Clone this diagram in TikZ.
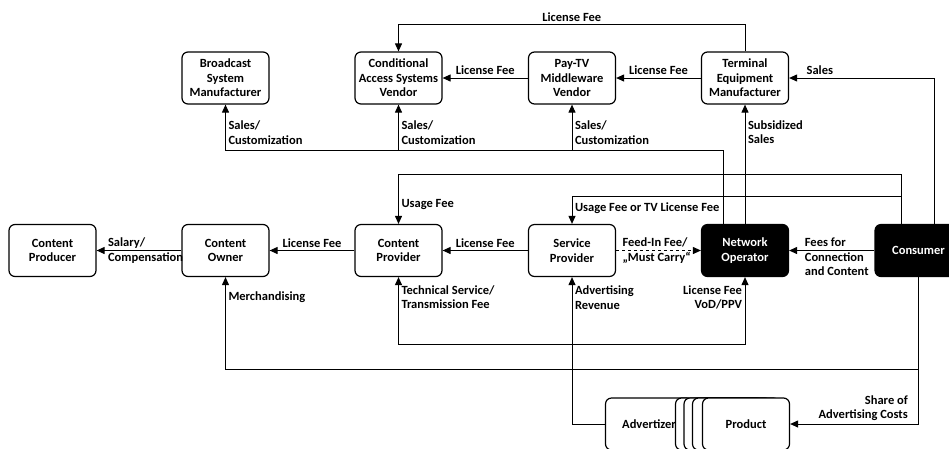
\documentclass[tikz,border=0pt]{standalone}
\usepackage{fontspec}
\setmainfont{Carlito}
\usetikzlibrary{positioning, arrows.meta}

\begin{document}
\begin{tikzpicture}[x=1pt, y=-1pt, line width=1pt, >={Triangle[length=8pt,width=7pt]},
    font=\fontsize{12.5}{14.5}\selectfont\bfseries,
    box/.style={draw, rounded corners=6pt, line width=1.2pt, fill=white, minimum width=87pt, minimum height=52pt, inner sep=1pt, align=center},
    dark/.style={box, fill=black, text=white},
    arr/.style={->},
    dbl/.style={<->},
    lbl/.style={inner sep=2.5pt, align=left}]
  \useasboundingbox (0,0) rectangle (949,448);
  \clip (0,0) rectangle (949,448);

  \node[box] (bsm) at (225.5,78) {Broadcast\\System\\Manufacturer};
  \node[box] (cas) at (398.5,78) {Conditional\\Access Systems\\Vendor};
  \node[box] (mw) at (572,78) {Pay-TV\\Middleware\\Vendor};
  \node[box] (tem) at (745,78) {Terminal\\Equipment\\Manufacturer};
  \node[box] (prod) at (52.5,250.5) {Content\\Producer};
  \node[box] (owner) at (225.5,250.5) {Content\\Owner};
  \node[box] (prov) at (398.5,250.5) {Content\\Provider};
  \node[box] (serv) at (572,250.5) {Service\\Provider};
  \node[dark] (netop) at (745,250.5) {Network\\Operator};
  \node[dark] (cons) at (918.5,250.5) {Consumer};
  \node[box] (adv) at (649,424) {Advertizer};
  \foreach \i/\x in {1/719,2/727.5,3/736}{\node[box] (copy\i) at (\x,424) {};}
  \node[box] (product) at (746,424) {Product};
  \coordinate (bus) at (0,150);

  \draw[arr] (tem) -- node[lbl, above]{License Fee} (mw);
  \draw[arr] (mw) -- node[lbl, above]{License Fee} (cas);
  \draw[arr] (tem.north) -- ++(0,-27) -| node[lbl, above, pos=0.25]{License Fee} (cas.north);
  \draw[arr] ([xshift=15.5pt]cons.north) |- node[lbl, above right, pos=0.95]{Sales} (tem.east);
  \draw[arr] (netop.north) -- node[lbl, right, pos=0.77]{Subsidized\\Sales} (tem.south);
  \draw[arr] ([xshift=-22pt]netop.north) |- (bsm.south |- bus) -- node[lbl, right, pos=0.38]{Sales/\\Customization} (bsm.south);
  \draw[arr] (cas.south |- bus) -- node[lbl, right, pos=0.38]{Sales/\\Customization} (cas.south);
  \draw[arr] (mw.south |- bus) -- node[lbl, right, pos=0.38]{Sales/\\Customization} (mw.south);

  \draw[arr] ([xshift=-17.5pt]cons.north) -- ++(0,-49) -| node[lbl, right, pos=0.8]{Usage Fee} (prov.north);
  \draw[arr] ([xshift=-17.5pt]cons.north) ++(0,-27) -| node[lbl, right, pos=0.7]{Usage Fee or TV License Fee} (serv.north);

  \draw[arr] (cons) -- node[lbl, anchor=west, pos=0.85, yshift=-6.5pt]{Fees for\\Connection\\and Content} (netop);
  \draw[arr, dashed] (serv) -- node[lbl, anchor=west, pos=0.04]{Feed-In Fee/\\„Must Carry“} (netop);
  \draw[arr] (serv) -- node[lbl, above]{License Fee} (prov);
  \draw[arr] (prov) -- node[lbl, above]{License Fee} (owner);
  \draw[arr] (owner) -- node[lbl, anchor=west, pos=0.9]{Salary/\\Compensation} (prod);

  \draw[dbl] (prov.south) -- node[lbl, right, pos=0.3]{Technical Service/\\Transmission Fee} ++(0,67) -| node[lbl, left, align=right, pos=0.85]{License Fee\\VoD/PPV} (netop.south);
  \draw[arr] (adv.west) -| node[lbl, right, pos=0.93]{Advertising\\Revenue} (serv.south);
  \draw[arr] (cons.south) -- ++(0,92) -| node[lbl, right, pos=0.89]{Merchandising} (owner.south);
  \draw[arr] (cons.south) |- node[lbl, above left, align=right, pos=0.53]{Share of\\Advertising Costs} (product.east);
\end{tikzpicture}
\end{document}
